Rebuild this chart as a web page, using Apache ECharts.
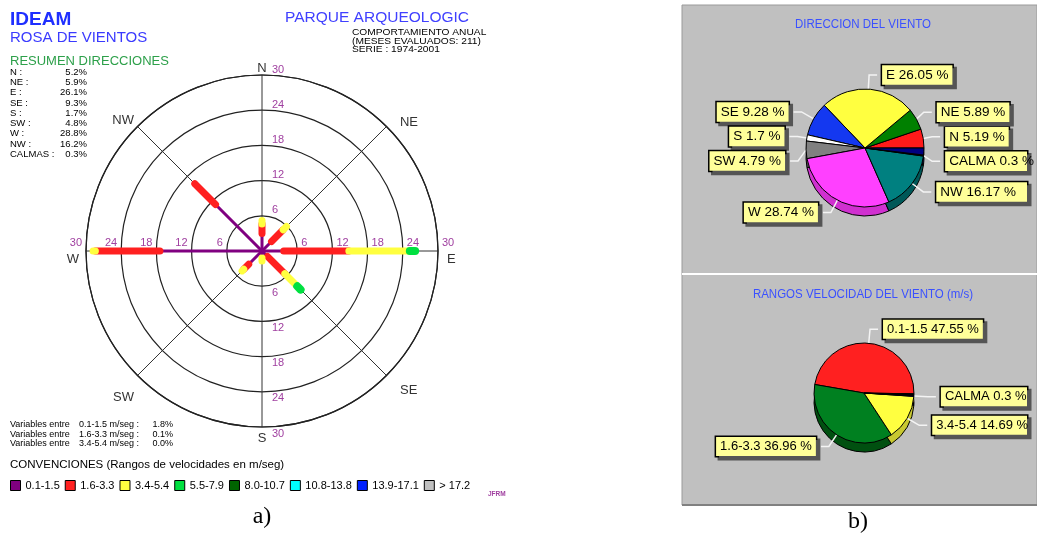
<!DOCTYPE html>
<html>
<head>
<meta charset="utf-8">
<title>Rosa de vientos - Parque Arqueologico</title>
<script src="https://cdn.jsdelivr.net/npm/echarts@6/dist/echarts.min.js"></script>
<style>
  html, body { margin: 0; padding: 0; background: #fff; }
  #roseChart { width: 1037px; height: 538px; }
</style>
</head>
<body>
<div id="roseChart"></div>
<script>
// ---- datos de la rosa (porcentaje por direccion y rango de velocidad) ----
var directions = ['N', 'NE', 'E', 'SE', 'S', 'SW', 'W', 'NW'];
var speedClasses = ['0.1-1.5', '1.6-3.3', '3.4-5.4', '5.5-7.9', '8.0-10.7', '10.8-13.8', '13.9-17.1', '> 17.2'];
var freq01 = [3.0, 2.3, 3.7, 1.3, 1.2, 3.2, 17.4, 11.2];
var freq16 = [1.6, 2.8, 11.1, 4.2, 0.0, 1.2, 11.0, 5.0];
var freq34 = [0.6, 0.8, 10.4, 3.0, 0.5, 0.4, 0.4, 0.0];
var freq55 = [0.0, 0.0, 0.9, 0.8, 0.0, 0.0, 0.0, 0.0];
var calmas = 0.3;
var variableRanges = ['0.1-1.5', '1.6-3.3', '3.4-5.4'];
var variablePct = [1.8, 0.1, 0.0];

// ---- tortas ----
var pieDirNames = ['N', 'NE', 'E', 'SE', 'S', 'SW', 'W', 'NW', 'CALMA', ''];
var pieDirValues = [5.19, 5.89, 26.05, 9.28, 1.7, 4.79, 28.74, 16.17, 0.3, 1.89];
var pieSpeedNames = ['0.1-1.5', '1.6-3.3', '3.4-5.4', 'CALMA', ''];
var pieSpeedValues = [47.55, 36.96, 14.69, 0.3, 0.5];

var speedColors = ['#800080', '#ff2020', '#ffff40', '#00e040', '#006400', '#00ffff', '#0020ff', '#c0c0c0'];
var pieDirColors = ['#ff1a1a', '#008000', '#ffff40', '#1438f0', '#ffffff', '#808080', '#ff40ff', '#008080', '#000000', '#000080'];
var pieDirSide = ['#b00000', '#005000', '#c8c830', '#0a2090', '#c8c8c8', '#505050', '#d030d0', '#005858', '#000000', '#000040'];
var pieSpeedColors = ['#ff2020', '#008020', '#ffff40', '#0000ff', '#000000'];
var pieSpeedSide = ['#b01010', '#005010', '#c8c830', '#0000a0', '#000000'];

var classValues = [freq01, freq16, freq34, freq55];
var SANS = 'Liberation Sans, Arial, sans-serif';
var purple = '#a040a0';

function makeSegment(width) {
  return function (params, api) {
    var a = api.value(1);
    var p0 = api.coord([api.value(2), a]);
    var p1 = api.coord([api.value(0), a]);
    return {
      type: 'line',
      shape: { x1: p0[0], y1: p0[1], x2: p1[0], y2: p1[1] },
      style: { stroke: api.visual('color'), lineWidth: width, lineCap: 'round' }
    };
  };
}

var roseSeries = speedClasses.map(function (name, k) {
  var vals = classValues[k];
  var data = [];
  if (vals) {
    directions.forEach(function (d, i) {
      if (vals[i] > 0) {
        var start = 0;
        for (var j = 0; j < k; j++) start += classValues[j][i];
        data.push([start + vals[i], i * 45, start]);
      }
    });
  }
  return {
    type: 'custom',
    name: name,
    coordinateSystem: 'polar',
    polarIndex: 0,
    encode: { radius: [0, 2], angle: 1 },
    itemStyle: { color: speedColors[k] },
    renderItem: makeSegment(k === 0 ? 3 : (k === 3 ? 8 : 7)),
    data: data,
    z: 3 + k
  };
});

// polares superpuestas: solo para poner las etiquetas del radio en N, E, S y W
var labelSides = [
  { start: 90, label: { margin: -10, align: 'left', verticalAlign: 'bottom' } },
  { start: 0, label: { margin: 3, align: 'left', verticalAlign: 'bottom', padding: [0, 0, 0, 4] } },
  { start: 270, label: { margin: 10, align: 'left', verticalAlign: 'top', padding: [1, 0, 0, 0] } },
  { start: 180, label: { margin: -3, align: 'right', verticalAlign: 'bottom', padding: [0, 4, 0, 0] } }
];

var polars = labelSides.map(function () { return { center: [262, 251], radius: 176 }; });

// pequenos corrimientos de los nombres de direccion
var dirRich = {
  d0: { lineHeight: 4 },
  d1: { padding: [0, 0, 0, 10], lineHeight: 2 },
  d2: { padding: [16, 0, 0, 4] },
  d3: { padding: [5, 0, 0, 10] },
  d4: {},
  d5: { padding: [12, 0, 0, 0] },
  d6: { padding: [16, 2, 0, 0] },
  d7: { lineHeight: 6 }
};

var angleAxes = labelSides.map(function (s, i) {
  if (i > 0) {
    return { polarIndex: i, type: 'value', min: 0, max: 360, startAngle: s.start, show: false };
  }
  return {
    polarIndex: 0, type: 'value', min: 0, max: 360, interval: 45,
    startAngle: 90, clockwise: true,
    axisLine: { lineStyle: { color: '#222', width: 1.2 } },
    axisTick: { show: false },
    splitLine: { show: true, lineStyle: { color: '#333', width: 1 } },
    axisLabel: {
      margin: 5, color: '#333', fontSize: 13, fontFamily: SANS,
      rich: dirRich,
      formatter: function (v) {
        var k = Math.round(v / 45) % 8;
        return '{d' + k + '|' + directions[k] + '}';
      }
    }
  };
});

var radiusAxes = labelSides.map(function (s, i) {
  return {
    polarIndex: i, type: 'value', min: 0, max: 30, interval: 6,
    axisLine: { show: false },
    axisTick: { show: false },
    splitLine: { show: i === 0, lineStyle: { color: '#222', width: 1.2 } },
    axisLabel: Object.assign({
      color: purple, fontSize: 11, fontFamily: SANS, showMinLabel: false,
      formatter: function (v) { return v === 0 ? '' : String(v); }
    }, s.label)
  };
});

var boxLabel = {
  formatter: '{b} {c} %',
  color: '#000',
  fontFamily: SANS,
  backgroundColor: '#ffff99',
  borderColor: '#000',
  borderWidth: 1.5,
  padding: [2, 4],
  overflow: 'none',
  shadowColor: '#555',
  shadowOffsetX: 3,
  shadowOffsetY: 3,
  shadowBlur: 0
};

function pieData(names, values, colors, noLabel) {
  return names.map(function (n, i) {
    var item = { name: n, value: values[i], itemStyle: { color: colors[i] } };
    if (noLabel || !n) {
      item.label = { show: false };
      item.labelLine = { show: false };
    }
    return item;
  });
}

function pieSeries(names, values, colors, side, center, radius, fontSize) {
  return [
    {
      type: 'pie', silent: true, z: 1,
      center: [center[0], center[1] + 9], radius: radius,
      startAngle: center[2], clockwise: false,
      itemStyle: { borderColor: '#000', borderWidth: 1 },
      label: { show: false }, labelLine: { show: false },
      data: pieData(names, values, side, true)
    },
    {
      type: 'pie', z: 2,
      center: [center[0], center[1]], radius: radius,
      startAngle: center[2], clockwise: false,
      avoidLabelOverlap: true,
      itemStyle: { borderColor: '#000', borderWidth: 1 },
      label: Object.assign({ fontSize: fontSize, lineHeight: fontSize + 2 }, boxLabel),
      labelLine: { length: 14, length2: 8, lineStyle: { color: '#f4f4f4', width: 1.5 } },
      data: pieData(names, values, colors, false)
    }
  ];
}

// texto de resumen
var dirTotals = directions.map(function (d, i) {
  return freq01[i] + freq16[i] + freq34[i] + freq55[i];
});
var summaryNames = directions.map(function (d) { return d + ' :'; }).concat(['CALMAS :']);
var summaryValues = dirTotals.concat([calmas]).map(function (v) { return v.toFixed(1) + '%'; });

function txt(x, y, text, style, extra) {
  return Object.assign({
    type: 'text', x: x, y: y, z: 10,
    style: Object.assign({ text: text, fill: '#000', fontFamily: SANS, fontSize: 10, verticalAlign: 'middle', align: 'left' }, style)
  }, extra || {});
}

var graphics = [
  { type: 'rect', z: 0, shape: { x: 682, y: 5, width: 355, height: 500 }, style: { fill: '#c0c0c0', stroke: '#9a9a9a', lineWidth: 1 } },
  { type: 'line', z: 1, shape: { x1: 682, y1: 274, x2: 1037, y2: 274 }, style: { stroke: '#ffffff', lineWidth: 2 } },
  { type: 'line', z: 1, shape: { x1: 682, y1: 505, x2: 1037, y2: 505 }, style: { stroke: '#808080', lineWidth: 2 } },

  txt(10, 20, 'IDEAM', { fill: '#1f2fff', fontSize: 19, fontWeight: 'bold' }),
  txt(10, 38, 'ROSA DE VIENTOS', { fill: '#3a3aff', fontSize: 15 }),
  txt(10, 61, 'RESUMEN DIRECCIONES', { fill: '#2da04a', fontSize: 13 }),
  txt(10, 67, summaryNames.join('\n'), { verticalAlign: 'top', lineHeight: 10.25, fontSize: 9.5 }),
  txt(87, 67, summaryValues.join('\n'), { verticalAlign: 'top', align: 'right', lineHeight: 10.25, fontSize: 9.5 }),
  txt(285, 18, 'PARQUE ARQUEOLOGIC', { fill: '#4040ff', fontSize: 15.5 }),
  txt(352, 29, 'COMPORTAMIENTO ANUAL\n(MESES EVALUADOS: 211)\nSERIE : 1974-2001', { verticalAlign: 'top', lineHeight: 8.2, fontSize: 8.5 }, { scaleX: 1.2 }),

  txt(10, 420, variableRanges.map(function () { return 'Variables entre'; }).join('\n'), { verticalAlign: 'top', lineHeight: 9.6, fontSize: 9 }),
  txt(79, 420, variableRanges.map(function (r) { return r + ' m/seg :'; }).join('\n'), { verticalAlign: 'top', lineHeight: 9.6, fontSize: 9 }),
  txt(173, 420, variablePct.map(function (v) { return v.toFixed(1) + '%'; }).join('\n'), { verticalAlign: 'top', align: 'right', lineHeight: 9.6, fontSize: 9 }),
  txt(10, 465, 'CONVENCIONES (Rangos de velocidades en m/seg)', { fontSize: 11.5 }),
  txt(488, 494, 'JFRM', { fill: purple, fontSize: 6.5, fontWeight: 'bold' }),
  txt(262, 517, 'a)', { align: 'center', fontSize: 24, fontFamily: 'Liberation Serif, Times New Roman, serif' }),
  txt(858, 522, 'b)', { align: 'center', fontSize: 24, fontFamily: 'Liberation Serif, Times New Roman, serif' }),

  txt(863, 25, 'DIRECCION DEL VIENTO', { align: 'center', fill: '#3a50ff', fontSize: 12.5 }, { scaleX: 0.92 }),
  txt(863, 295, 'RANGOS VELOCIDAD DEL VIENTO (m/s)', { align: 'center', fill: '#3a50ff', fontSize: 12.5 }, { scaleX: 0.92 })
];

var option = {
  animation: false,
  backgroundColor: '#ffffff',
  textStyle: { fontFamily: SANS },
  polar: polars,
  angleAxis: angleAxes,
  radiusAxis: radiusAxes,
  legend: {
    left: 10, top: 480, padding: 0,
    itemWidth: 10, itemHeight: 10, itemGap: 5,
    icon: 'rect',
    selectedMode: false,
    textStyle: { fontSize: 11, color: '#000', fontFamily: SANS },
    data: speedClasses.map(function (name) {
      return { name: name, itemStyle: { borderColor: '#000', borderWidth: 1 } };
    })
  },
  graphic: graphics,
  series: roseSeries
    .concat(pieSeries(pieDirNames, pieDirValues, pieDirColors, pieDirSide, [865, 148, 0], 59, 13.5))
    .concat(pieSeries(pieSpeedNames, pieSpeedValues, pieSpeedColors, pieSpeedSide, [864, 393, -1], 50, 13))
};

var roseChart = echarts.init(document.getElementById('roseChart'));
roseChart.setOption(option);
</script>
</body>
</html>
